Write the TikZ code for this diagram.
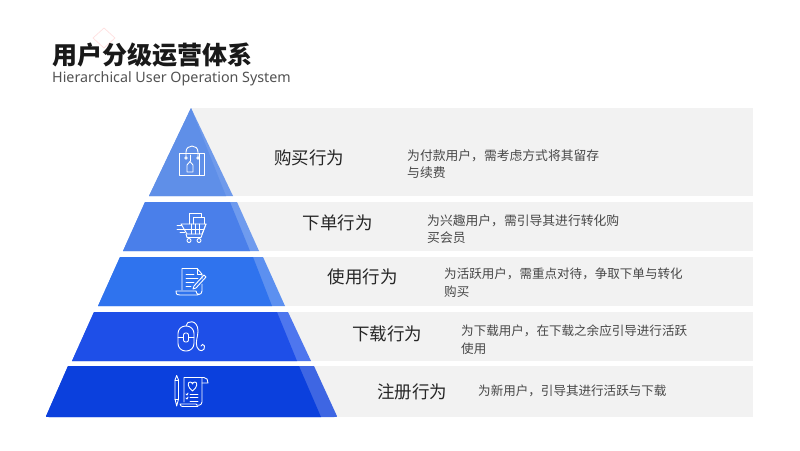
\documentclass[tikz,border=0pt]{standalone}
\usepackage{fontspec}
\setmainfont{Noto Sans}
\newfontfamily\cjk{Noto Sans CJK SC}
\begin{document}
\begin{tikzpicture}[x=1pt,y=-1pt,
  panel/.style={fill=panelgray,draw=none},
  band/.style={draw=none},
  icon/.style={draw=white,line width=0.9pt,line join=round,line cap=round,fill=none},
  behave/.style={anchor=west,inner sep=0pt,text=black!85,font=\cjk\fontsize{17.5}{20}\selectfont},
  note/.style={anchor=west,inner sep=0pt,align=left,text=black!72,font=\cjk\fontsize{12.55}{17.6}\selectfont},
  wide note/.style={note,font=\cjk\fontsize{12.8}{17.6}\selectfont}]
\definecolor{panelgray}{HTML}{F2F2F2}
\definecolor{aA}{HTML}{5F8FE8}\definecolor{aB}{HTML}{6F9AEB}
\definecolor{bA}{HTML}{4A7FEA}\definecolor{bB}{HTML}{6F9BEE}
\definecolor{cA}{HTML}{2F73EE}\definecolor{cB}{HTML}{5C90F0}
\definecolor{dA}{HTML}{1E4FE8}\definecolor{dB}{HTML}{4E76EE}
\definecolor{eA}{HTML}{0B40DD}\definecolor{eB}{HTML}{3E66E3}
\useasboundingbox (0,0) rectangle (800,450);
\fill[white] (0,0) rectangle (800,450);
% faint diamond behind the title
\draw[draw=red!12,line width=0.7pt] (104,28) -- (115,38) -- (104,48) -- (93,38) -- cycle;
\node[anchor=west,inner sep=0pt,text=black!90,font=\cjk\bfseries\fontsize{25}{28}\selectfont] (title) at (52,55) {用户分级运营体系};
\node[anchor=west,inner sep=0pt,text=black!68,font=\fontsize{14.3}{18}\selectfont] (subtitle) at (52,78.5) {Hierarchical User Operation System};
% panels
\fill[panel] (191,108) rectangle (753,196);
\fill[panel] (191,202) rectangle (753,251);
\fill[panel] (191,257) rectangle (753,306);
\fill[panel] (191,312) rectangle (753,361);
\fill[panel] (191,366) rectangle (753,417);
% pyramid: lighter full band, darker inner part
\fill[band,aB] (191,108) -- (233,196) -- (149,196) -- cycle;
\fill[band,aA] (191,108) -- (226,196) -- (149,196) -- cycle;
\fill[band,bB] (145,202) -- (237,202) -- (259,251) -- (123,251) -- cycle;
\fill[band,bA] (145,202) -- (230,202) -- (250,251) -- (123,251) -- cycle;
\fill[band,cB] (120,257) -- (263,257) -- (285,306) -- (98,306) -- cycle;
\fill[band,cA] (120,257) -- (253,257) -- (272,306) -- (98,306) -- cycle;
\fill[band,dB] (94,312) -- (288,312) -- (311,361) -- (72,361) -- cycle;
\fill[band,dA] (94,312) -- (277,312) -- (297,361) -- (72,361) -- cycle;
\fill[band,eB] (68,366) -- (314,366) -- (336,414) .. controls (337.5,417) .. (334,417) -- (49,417) .. controls (45.5,417) .. (47,414) -- cycle;
\fill[band,eA] (68,366) -- (299,366) -- (321,417) -- (49,417) .. controls (45.5,417) .. (47,414) -- cycle;
% icon: bag
\draw[icon] (199,153) -- (179,153) -- (179,175) -- (199,175) -- cycle;
\draw[icon] (199,153) -- (204,153) -- (204,175) -- (199,175);
\draw[icon] (186,156.5) -- (186,152) .. controls (186,144) and (198,144) .. (198,152) -- (198,156.5);
\draw[icon] (186,158) circle (1.3);
\draw[icon] (198,158) circle (1.3);
\draw[icon] (190,155) -- (190,161);
\draw[icon] (187,172) -- (187,165) -- (190,161.5) -- (193,165) -- (193,172) -- cycle;
% icon: cart
\draw[icon] (189,224) -- (189,213) -- (201,213) -- (201,217);
\draw[icon] (193,224) -- (193,217) -- (204,217) -- (204,224);
\draw[icon] (181,224) -- (206,224) -- (202,234) -- (187,234) -- cycle;
\draw[icon] (206,224) -- (201,237.5) -- (187,237.5) -- (186,234);
\draw[icon] (191,224) -- (191,234) (195,224) -- (195,234) (199,224) -- (199,234) (184,229) -- (204,229);
\draw[icon] (189,240.5) circle (2) (199,240.5) circle (2);
\draw[icon] (177,225.5) -- (182,225.5) (177,229) -- (184,229) (180,232.5) -- (185,232.5);
% icon: document and pen
\draw[icon] (182,290) -- (182,268.5) -- (197,268.5) -- (202,274) -- (202,279);
\draw[icon] (197,268.5) -- (197,274) -- (202,274);
\draw[icon] (202,284) -- (202,291) .. controls (202,295.5) and (196,295.5) .. (196,291) -- (176,291) .. controls (176,295) and (178,295) .. (180,295) -- (198,295);
\draw[icon] (186,274) -- (194,274) (186,278) -- (198,278) (186,282) -- (194,282) (186,286) -- (191,286);
\draw[icon] (194,286) -- (193,289) -- (196,288) -- (206,277) -- (204,275) -- cycle;
% icon: mouse
\draw[icon,rounded corners=7.5pt] (178,326) rectangle (194,351);
\draw[icon,rounded corners=2pt] (183.5,333) rectangle (188.5,342);
\draw[icon] (178,337.5) -- (183.5,337.5) (188.5,337.5) -- (194,337.5);
\draw[icon] (186,326) .. controls (186,320) and (198,319) .. (198,331) .. controls (198,337) and (195,342) .. (197,347) .. controls (199,353) and (205.5,351) .. (204.5,346) .. controls (204,343.5) and (201,344) .. (201,346);
% icon: pencil and checklist
\draw[icon] (175,380) -- (175,399) -- (176.7,406) -- (178.5,399) -- (178.5,380) -- (176.7,375.5) -- cycle;
\draw[icon] (175,380) -- (178.5,380) (175,399) -- (178.5,399);
\draw[icon] (184,402) -- (184,377.5) -- (204,377.5) .. controls (207,377.5) and (208,380) .. (208,383) -- (202,383);
\draw[icon] (202,378) -- (202,402) .. controls (202,406) and (196,406) .. (196,404) -- (180,404) (180,404) .. controls (180,406.5) and (182,406.5) .. (184,406.5) -- (198,406.5);
\draw[icon] (192.5,391) .. controls (187,387) and (187.5,382) .. (190,382) .. controls (191.5,382) and (192.5,383) .. (192.5,384) .. controls (192.5,383) and (193.5,382) .. (195,382) .. controls (197.5,382) and (198,387) .. (192.5,391) -- cycle;
\draw[icon] (190,394) -- (198,394) (190,397.5) -- (198,397.5) (190,401) -- (198,401);
\draw[icon] (186,394) -- (187,395) -- (188,393) (186,398) -- (187,399) -- (188,397);
% labels
\node[behave] (l1) at (274,158) {购买行为};
\node[behave] (l2) at (302.5,222.5) {下单行为};
\node[behave] (l3) at (327.5,276.5) {使用行为};
\node[behave] (l4) at (352,334) {下载行为};
\node[behave] (l5) at (377,391.5) {注册行为};
\node[wide note] (n1) at (407,164) {为付款用户，需考虑方式将其留存\\与续费};
\node[wide note] (n2) at (427,229) {为兴趣用户，需引导其进行转化购\\买会员};
\node[note] (n3) at (444,282.5) {为活跃用户，需重点对待，争取下单与转化\\购买};
\node[note] (n4) at (461,339.5) {为下载用户，在下载之余应引导进行活跃\\使用};
\node[note] (n5) at (478,391) {为新用户，引导其进行活跃与下载};
\end{tikzpicture}
\end{document}
